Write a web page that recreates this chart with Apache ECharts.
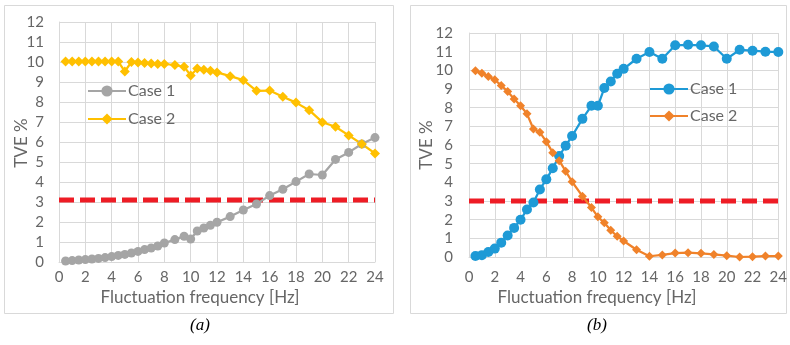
<!DOCTYPE html>
<html><head><meta charset="utf-8">
<script src="https://cdn.jsdelivr.net/npm/echarts@6/dist/echarts.min.js"></script>
<style>html,body{margin:0;padding:0;background:#fff}#c{width:790px;height:345px}</style>
</head><body><div id="c"></div>
<script>
var freqs = [0.5,1,1.5,2,2.5,3,3.5,4,4.5,5,5.5,6,6.5,7,7.5,8,8.8,9.5,10,10.5,11,11.5,12,13,14,15,16,17,18,19,20,21,22,23,24];
var aCase1 = [0.05,0.07,0.1,0.12,0.15,0.18,0.22,0.27,0.33,0.38,0.45,0.53,0.62,0.7,0.8,0.95,1.12,1.29,1.15,1.55,1.7,1.84,1.99,2.27,2.6,2.9,3.32,3.64,4.02,4.4,4.35,5.13,5.48,5.9,6.22];
var aCase2 = [10.02,10.02,10.02,10.02,10.02,10.02,10.02,10.02,10.02,9.53,10.0,9.98,9.95,9.93,9.9,9.9,9.85,9.76,9.33,9.68,9.61,9.56,9.48,9.29,9.09,8.56,8.57,8.26,7.97,7.59,6.99,6.76,6.33,5.9,5.43];
var bCase1 = [0.05,0.1,0.27,0.45,0.77,1.15,1.56,2.0,2.54,2.92,3.62,4.16,4.75,5.41,5.96,6.48,7.4,8.1,8.1,9.05,9.4,9.82,10.08,10.62,10.98,10.62,11.34,11.37,11.34,11.28,10.62,11.1,11.05,11.0,10.98];
var bCase2 = [9.98,9.85,9.67,9.49,9.19,8.87,8.47,8.1,7.67,6.86,6.68,6.18,5.59,5.16,4.6,4.03,3.26,2.65,2.15,1.83,1.43,1.11,0.86,0.39,0.04,0.11,0.21,0.23,0.2,0.14,0.07,0.0,0.02,0.05,0.05];
var limitA = 3.1, limitB = 3.0;
var seriesNames = ['Case 1','Case 2'];
var panelLabels = ['(a)','(b)'];
var xTitle = 'Fluctuation frequency [Hz]';
var yTitle = 'TVE %';

function pairs(xs, ys){ return xs.map(function(x,i){return [x, ys[i]];}); }
var FONT = 'Lato';
var TXT = '#666666';
var GRIDC = '#d9d9d9';

function xAxisCfg(gi, margin){
  return {gridIndex:gi, type:'value', min:0, max:24, interval:2,
    axisLine:{show:true, lineStyle:{color:GRIDC, width:1}}, axisTick:{show:false},
    axisLabel:{color:TXT, fontFamily:FONT, fontSize:15, margin:margin},
    splitLine:{show:true, lineStyle:{color:GRIDC, width:1}}};
}
function yAxisCfg(gi, margin){
  return {gridIndex:gi, type:'value', min:0, max:12, interval:1,
    axisLine:{show:true, lineStyle:{color:GRIDC, width:1}}, axisTick:{show:false},
    axisLabel:{color:TXT, fontFamily:FONT, fontSize:15, margin:margin},
    splitLine:{show:true, lineStyle:{color:GRIDC, width:1}}};
}
function lineSeries(name, gi, data, color, symbol, size){
  return {name:name, type:'line', xAxisIndex:gi, yAxisIndex:gi, data:data,
    symbol:symbol, symbolSize:size, showAllSymbol:true,
    lineStyle:{color:color, width:2.25}, itemStyle:{color:color}, emphasis:{disabled:true}, z:3, animation:false};
}
function limitSeries(gi, v){
  return {name:'limit', type:'line', xAxisIndex:gi, yAxisIndex:gi, data:[[0,v],[24,v]],
    symbol:'none', lineStyle:{color:'#ee1c25', width:5, type:[15,6]}, z:2, animation:false, silent:true};
}
function txt(x, y, s, size, rot){
  return {type:'text', x:x, y:y, rotation:rot||0, silent:true,
    style:{text:s, fill:TXT, font:size+'px '+FONT, align:'center', verticalAlign:'middle'}};
}

var chart = echarts.init(document.getElementById('c'), null, {renderer:'canvas'});
chart.setOption({
  animation:false,
  backgroundColor:'#fff',
  textStyle:{fontFamily:FONT},
  grid:[{left:59, top:22, width:316, height:240},{left:469, top:33, width:310, height:224}],
  xAxis:[xAxisCfg(0, 8), xAxisCfg(1, 13)],
  yAxis:[yAxisCfg(0, 15), yAxisCfg(1, 16)],
  legend:[
    {data:seriesNames, orient:'vertical', left:87, top:83, padding:0, itemWidth:38, itemHeight:14, itemGap:12,
     textStyle:{color:TXT, fontFamily:FONT, fontSize:16, padding:[0,0,0,-3]}, selectedMode:false},
    {data:[seriesNames[0]+' ', seriesNames[1]+' '], orient:'vertical', left:649, top:81, padding:0, itemWidth:38, itemHeight:14, itemGap:11,
     textStyle:{color:TXT, fontFamily:FONT, fontSize:16, padding:[0,0,0,-3]}, selectedMode:false}
  ],
  series:[
    limitSeries(0, limitA),
    lineSeries(seriesNames[0], 0, pairs(freqs, aCase1), '#a5a5a5', 'circle', 9),
    lineSeries(seriesNames[1], 0, pairs(freqs, aCase2), '#ffc000', 'diamond', 10),
    limitSeries(1, limitB),
    lineSeries(seriesNames[0]+' ', 1, pairs(freqs, bCase1), '#1e9ad6', 'circle', 10),
    lineSeries(seriesNames[1]+' ', 1, pairs(freqs, bCase2), '#f0822a', 'diamond', 9)
  ],
  graphic:[
    {type:'rect', shape:{x:4.5, y:5.5, width:389, height:308}, style:{fill:'none', stroke:GRIDC, lineWidth:1}, silent:true},
    {type:'rect', shape:{x:410.5, y:5.5, width:376, height:308}, style:{fill:'none', stroke:GRIDC, lineWidth:1}, silent:true},
    txt(200, 298, xTitle, 17, 0),
    txt(597, 298, xTitle, 17, 0),
    txt(22, 143, yTitle, 17, Math.PI/2),
    txt(427, 145, yTitle, 17, Math.PI/2),
    {type:'text', x:200, y:326, silent:true, style:{text:panelLabels[0], font:'italic 17px "Liberation Serif"', fill:'#000', align:'center', verticalAlign:'middle'}},
    {type:'text', x:597, y:326, silent:true, style:{text:panelLabels[1], font:'italic 17px "Liberation Serif"', fill:'#000', align:'center', verticalAlign:'middle'}}
  ]
});
</script>
</body></html>
